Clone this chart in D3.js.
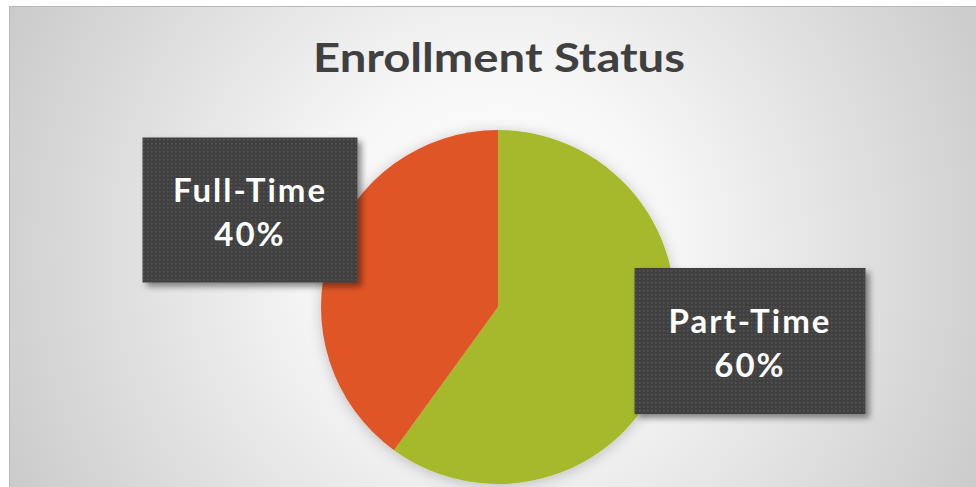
<!DOCTYPE html>
<html>
<head>
<meta charset="utf-8">
<script src="https://cdn.jsdelivr.net/npm/d3@7"></script>
<style>
  html, body { margin: 0; padding: 0; background: #fff; }
  svg { display: block; }
</style>
</head>
<body>
<div id="chart"></div>
<script>
const categories = ["Part-Time", "Full-Time"];
const values = [60, 40];
const colors = ["#a6b92a", "#e05527"];
const title = "Enrollment Status";

const width = 976,
    height = 487;
const cx = 498,
    cy = 307,
    radius = 177;

// label box layout, offsets from pie centre
const labelLayout = {
    "Full-Time": { dx: -248, dy: -97, w: 215, h: 145 },
    "Part-Time": { dx: 252, dy: 34, w: 231, h: 146 },
};

const svg = d3
    .select("#chart")
    .append("svg")
    .attr("width", width)
    .attr("height", height);

const defs = svg.append("defs");

const bg = defs
    .append("radialGradient")
    .attr("id", "bg")
    .attr("gradientUnits", "userSpaceOnUse")
    .attr("cx", 495)
    .attr("cy", 250)
    .attr("r", 580);
bg.append("stop").attr("offset", "0%").attr("stop-color", "#ffffff");
bg.append("stop").attr("offset", "30%").attr("stop-color", "#f7f7f7");
bg.append("stop").attr("offset", "100%").attr("stop-color", "#c6c6c6");

const dots = defs
    .append("pattern")
    .attr("id", "dots")
    .attr("patternUnits", "userSpaceOnUse")
    .attr("width", 4)
    .attr("height", 4);
dots.append("rect").attr("width", 4).attr("height", 4).attr("fill", "#404040");
dots.append("rect")
    .attr("x", 1)
    .attr("y", 1)
    .attr("width", 1.5)
    .attr("height", 1.5)
    .attr("fill", "#585858");

const pieShadow = defs.append("filter").attr("id", "pieShadow")
    .attr("x", "-20%").attr("y", "-20%").attr("width", "140%").attr("height", "140%");
pieShadow.append("feDropShadow")
    .attr("dx", 0).attr("dy", 2).attr("stdDeviation", 7)
    .attr("flood-color", "#000").attr("flood-opacity", 0.22);

const boxShadow = defs.append("filter").attr("id", "boxShadow")
    .attr("x", "-10%").attr("y", "-10%").attr("width", "125%").attr("height", "125%");
boxShadow.append("feDropShadow")
    .attr("dx", 4).attr("dy", 4).attr("stdDeviation", 3)
    .attr("flood-color", "#000").attr("flood-opacity", 0.45);

// chart area
svg.append("rect")
    .attr("x", 9.5)
    .attr("y", 6.5)
    .attr("width", width)
    .attr("height", height)
    .attr("fill", "url(#bg)")
    .attr("stroke", "#b8b8b8")
    .attr("stroke-width", 1);

svg.append("text")
    .attr("x", 499)
    .attr("y", 72)
    .attr("text-anchor", "middle")
    .attr("textLength", 372)
    .attr("lengthAdjust", "spacingAndGlyphs")
    .style("font-family", "Lato, 'Open Sans', sans-serif")
    .style("font-size", "41px")
    .style("font-weight", "bold")
    .attr("fill", "#404040")
    .text(title);

const data = categories.map((c, i) => ({ name: c, value: values[i], color: colors[i] }));

const pie = d3.pie().sort(null).value((d) => d.value);
const arc = d3.arc().innerRadius(0).outerRadius(radius);

const g = svg.append("g").attr("transform", `translate(${cx},${cy})`);

g.append("g")
    .attr("filter", "url(#pieShadow)")
    .selectAll("path")
    .data(pie(data))
    .join("path")
    .attr("d", arc)
    .attr("fill", (d) => d.data.color);

const total = d3.sum(values);
const labels = g
    .selectAll(".label")
    .data(pie(data))
    .join("g")
    .attr("class", "label")
    .attr("transform", (d) => {
        const l = labelLayout[d.data.name];
        return `translate(${l.dx},${l.dy})`;
    });

labels
    .append("rect")
    .attr("x", (d) => -labelLayout[d.data.name].w / 2)
    .attr("y", (d) => -labelLayout[d.data.name].h / 2)
    .attr("width", (d) => labelLayout[d.data.name].w)
    .attr("height", (d) => labelLayout[d.data.name].h)
    .attr("fill", "url(#dots)")
    .attr("filter", "url(#boxShadow)");

labels
    .append("text")
    .attr("text-anchor", "middle")
    .style("font-family", "Lato, 'Open Sans', sans-serif")
    .style("font-size", "33px")
    .style("letter-spacing", "2px")
    .style("font-weight", "bold")
    .attr("fill", "#ffffff")
    .call((t) => {
        t.append("tspan").attr("x", 0).attr("y", -8).text((d) => d.data.name);
        t.append("tspan")
            .attr("x", 0)
            .attr("y", 36)
            .text((d) => `${Math.round((d.data.value / total) * 100)}%`);
    });
</script>
</body>
</html>
